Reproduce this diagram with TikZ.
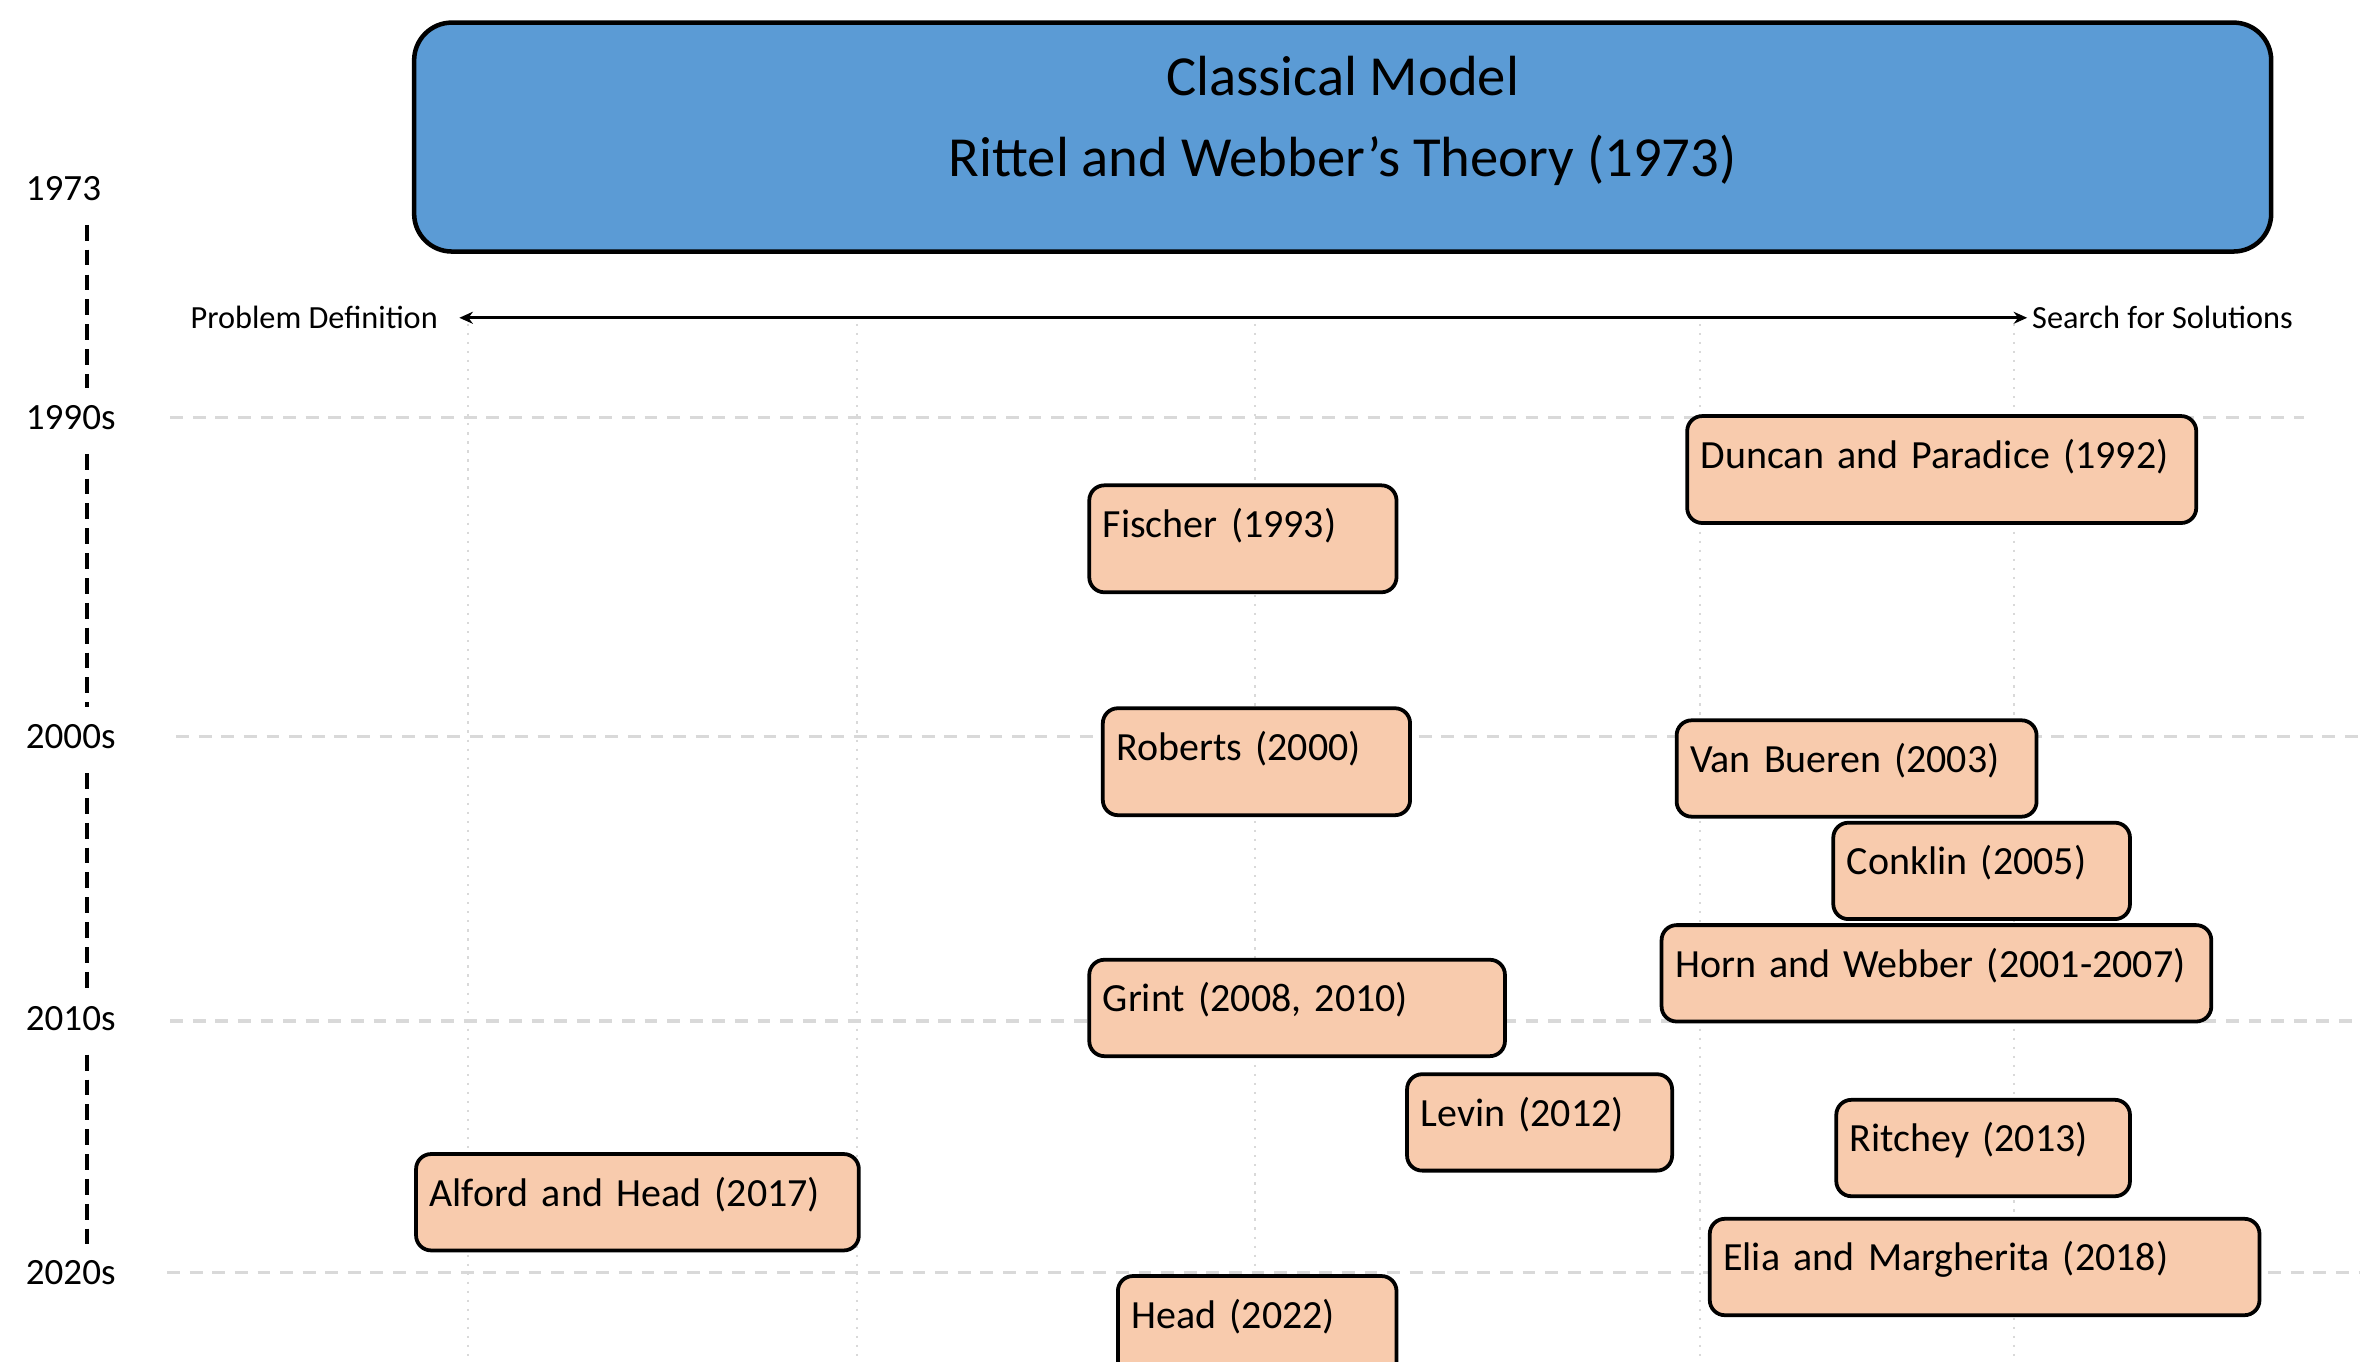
\documentclass[tikz,border=0pt]{standalone}
\usepackage{fontspec}
\setmainfont{Carlito}
\usetikzlibrary{positioning,arrows.meta}
\definecolor{titleblue}{HTML}{5B9BD5}
\definecolor{paperpeach}{HTML}{F8CBAD}
\definecolor{gridgray}{HTML}{D9D9D9}

\begin{document}
\begin{tikzpicture}[x=0.2mm, y=-0.2mm,
titlenode/.style={rectangle, draw=black, fill=titleblue, line width=0.6mm, rounded corners=5mm, minimum width=246.6mm, minimum height=30.4mm},
titletext/.style={align=center, font=\fontsize{21.4}{30.6}\selectfont},
papernode/.style={rectangle, draw=black, fill=paperpeach, line width=0.5mm, rounded corners=2mm, anchor=north west, align=left, inner xsep=1.8mm, inner ysep=0pt, text height=6.9mm, text depth=5.9mm, font=\fontsize{15.1}{18}\selectfont},
tallnode/.style={text depth=7.3mm},
yearnode/.style={anchor=west, font=\fontsize{14}{16}\selectfont},
axisnode/.style={font=\fontsize{12.2}{14}\selectfont},
decade/.style={draw=gridgray, line width=0.45mm, dash pattern=on 1.7mm off 1.3mm},
column/.style={draw=gridgray, line width=0.25mm, dash pattern=on 0.3mm off 0.9mm},
timeline/.style={draw=black, line width=0.5mm, dash pattern=on 2.1mm off 1.2mm, shorten <=2mm, shorten >=1mm},
]
\useasboundingbox (0,0) rectangle (1567,904);
\clip (0,0) rectangle (1567,904);

%Grid
\foreach \gx in {311,569,833,1129,1337}
  \draw[column] (\gx,215) -- (\gx,904);
\draw[decade] (113,277) -- (1530,277);
\draw[decade] (117,489) -- (1567,489);
\draw[decade] (113,678) -- (1567,678);
\draw[decade] (111,845) -- (1567,845);

%Nodes
\node[titlenode]   (classic)     at (891.5,91) {};
\node[titletext]   (classictext) at (891.5,80) {Classical Model\\Rittel and Webber’s Theory (1973)};

\node[yearnode] (y1973) at (11,125) {1973};
\node[yearnode] (y1990) at (11,277) {1990s};
\node[yearnode] (y2000) at (11,489) {2000s};
\node[yearnode] (y2010) at (11,676) {2010s};
\node[yearnode] (y2020) at (11,845) {2020s};
\coordinate (tl) at (58,0);

\node[axisnode, anchor=east, inner xsep=2.8mm] (probdef) at (305,211) {Problem Definition};
\node[axisnode, anchor=west, inner xsep=0.6mm] (search)  at (1346,211) {Search for Solutions};

\node[papernode, tallnode, text width=64mm]   (duncan)    at (1119,275) {Duncan and Paradice (1992)};
\node[papernode, tallnode, text width=37.2mm] (fischer)   at (722,321)  {Fischer (1993)};
\node[papernode, tallnode, text width=37.2mm] (roberts)   at (731,469)  {Roberts (2000)};
\node[papernode, text width=44.2mm]           (vanbueren) at (1112,477) {Van Bueren (2003)};
\node[papernode, text width=35.8mm]           (conklin)   at (1216,545) {Conklin (2005)};
\node[papernode, text width=69.4mm]           (horn)      at (1102,613) {Horn and Webber (2001-2007)};
\node[papernode, text width=51.6mm]           (grint)     at (722,636)  {Grint (2008, 2010)};
\node[papernode, text width=31.6mm]           (levin)     at (933,712)  {Levin (2012)};
\node[papernode, text width=35.4mm]           (ritchey)   at (1218,729) {Ritchey (2013)};
\node[papernode, text width=55.2mm]           (alford)    at (275,765)  {Alford and Head (2017)};
\node[papernode, text width=69.4mm]           (elia)      at (1134,808) {Elia and Margherita (2018)};
\node[papernode, tallnode, text width=33.4mm] (head)      at (741,846)  {Head (2022)};

%Lines
\draw[timeline] (y1973.south -| tl) -- (y1990.north -| tl);
\draw[timeline] (y1990.south -| tl) -- (y2000.north -| tl);
\draw[timeline] (y2000.south -| tl) -- (y2010.north -| tl);
\draw[timeline] (y2010.south -| tl) -- (y2020.north -| tl);
\draw[{Stealth[length=1.8mm,width=1.6mm]}-{Stealth[length=1.8mm,width=1.6mm]}, line width=0.45mm] (probdef.east) -- (search.west);
\end{tikzpicture}
\end{document}
